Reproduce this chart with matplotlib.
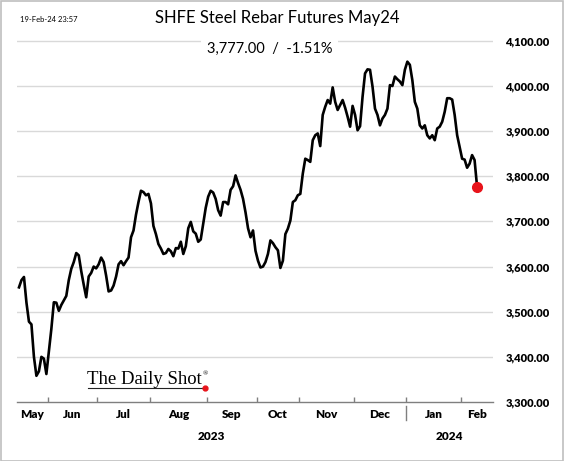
import numpy as np
import matplotlib
matplotlib.use('Agg')
import matplotlib.pyplot as plt
from matplotlib.patches import Rectangle
from matplotlib.lines import Line2D

# SHFE steel rebar futures (May24 contract), one value per trading day
rebar = [
    3554, 3570, 3577, 3520, 3478, 3472, 3400, 3358, 3368, 3400, 3396, 3362,
    3413, 3462, 3521, 3520, 3502, 3515, 3525, 3535, 3570, 3595, 3610, 3630,
    3625, 3590, 3560, 3532, 3578, 3586, 3600, 3596, 3605, 3620, 3610, 3580,
    3545, 3547, 3558, 3578, 3605, 3612, 3603, 3612, 3620, 3665, 3680, 3715,
    3743, 3768, 3765, 3758, 3761, 3740, 3690, 3672, 3650, 3640, 3628, 3630,
    3639, 3634, 3623, 3641, 3640, 3655, 3628, 3645, 3685, 3699, 3678, 3673,
    3655, 3660, 3695, 3730, 3755, 3768, 3764, 3750, 3725, 3713, 3743, 3743,
    3738, 3770, 3778, 3802, 3785, 3770, 3750, 3720, 3685, 3665, 3680, 3635,
    3613, 3598, 3600, 3610, 3628, 3658, 3652, 3643, 3636, 3597, 3613, 3672,
    3684, 3702, 3743, 3747, 3758, 3761, 3806, 3839, 3836, 3832, 3880, 3891,
    3895, 3867, 3936, 3954, 3969, 3961, 3997, 3965, 3947, 3958, 3969, 3952,
    3932, 3910, 3956, 3936, 3902, 3911, 3976, 4028, 4037, 4036, 3999, 3950,
    3936, 3913, 3928, 3936, 3950, 4002, 4000, 4021, 4015, 4010, 4002, 4036,
    4054, 4047, 4013, 3965, 3950, 3913, 3906, 3913, 3891, 3884, 3891, 3880,
    3906, 3910, 3921, 3943, 3973, 3973, 3970, 3936, 3891, 3865, 3839, 3837,
    3819, 3828, 3847, 3836, 3777,
]

# trading days shown in each month (May 2023 .. Feb 2024)
months = ['May', 'Jun', 'Jul', 'Aug', 'Sep', 'Oct', 'Nov', 'Dec', 'Jan', 'Feb']
month_days = [12, 20, 21, 23, 20, 17, 22, 21, 22, 7]
years = ['2023', '2024']
yticks = [3300, 3400, 3500, 3600, 3700, 3800, 3900, 4000, 4100]

last_value = '3,777.00'
last_change = '-1.51%'
stamp = '19-Feb-24 23:57'

plt.rcParams['font.family'] = ['Lato', 'DejaVu Sans']

x = np.arange(len(rebar))
xmin, xmax = -0.8, 190.4
bounds = np.cumsum(month_days)[:-1] - 0.5
edges = np.concatenate([[xmin], bounds, [xmax]])
mids = (edges[:-1] + edges[1:]) / 2
year_split = bounds[7]

fig = plt.figure(figsize=(5.64, 4.61), dpi=100)
ax = fig.add_axes([17 / 564, 1 - 402 / 461, 476 / 564, 362 / 461])

ax.plot(x, rebar, color='black', lw=1.9, solid_joinstyle='round', zorder=3)
ax.plot(x[-1], rebar[-1], 'o', color='#e8141b', ms=7, zorder=4)

ax.set_xlim(xmin, xmax)
ax.set_ylim(3300, 4102)

# grid lines
for v in yticks[1:]:
    ax.axhline(v, color='#d9d9d9', lw=1, zorder=1)

for s in ['top', 'right', 'left']:
    ax.spines[s].set_visible(False)
ax.spines['bottom'].set_color('#7f7f7f')
ax.spines['bottom'].set_linewidth(1)

# y labels on the right
ax.yaxis.tick_right()
ax.set_yticks(yticks)
ax.set_yticklabels([f'{v:,.2f}' for v in yticks], fontsize=8, fontweight='heavy')
ax.tick_params(axis='y', length=0, pad=9)

# month boundaries as ticks, month names centred between them
ax.set_xticks(bounds)
ax.set_xticklabels([])
ax.tick_params(axis='x', which='major', direction='in', length=3.5,
               color='#7f7f7f', width=1)
ax.set_xticks(mids, minor=True)
ax.set_xticklabels(months, minor=True, fontsize=8.5, fontweight='heavy')
ax.tick_params(axis='x', which='minor', length=0, pad=5)

# year separator and year labels
ax.add_line(Line2D([year_split, year_split], [-0.01, -0.05],
                   transform=ax.get_xaxis_transform(), color='#7f7f7f',
                   lw=1, clip_on=False))
year_mid = [(xmin + year_split) / 2, (year_split + xmax) / 2]
for xm, yr in zip(year_mid, years):
    ax.text(xm, -0.095, yr, transform=ax.get_xaxis_transform(),
            ha='center', va='center', fontsize=8.5, fontweight='heavy')

# titles
fig.text(0.492, 1 - 18 / 461, 'SHFE Steel Rebar Futures May24',
         ha='center', va='center', fontsize=12)
fig.text(0.478, 1 - 49 / 461, f'{last_value}  /  {last_change}',
         ha='center', va='center', fontsize=10.5, zorder=5,
         bbox=dict(facecolor='white', edgecolor='none', pad=4))
fig.text(20 / 564, 1 - 20 / 461, stamp, ha='left', va='center', fontsize=5.5)

# logo
fig.text(87 / 564, 1 - 379 / 461, 'The Daily Shot', ha='left', va='center',
         fontsize=13.5, family='Liberation Serif')
fig.text(203 / 564, 1 - 374 / 461, '\u00ae', ha='left', va='center',
         fontsize=5, family='Liberation Serif')
fig.add_artist(Line2D([88 / 564, 205 / 564], [1 - 388 / 461, 1 - 388 / 461],
                      color='#222222', lw=0.8))
fig.add_artist(Line2D([205 / 564], [1 - 388 / 461], marker='o', ms=3.5,
                      color='#e8141b', lw=0))

# grey frame around the whole chart
fig.add_artist(Rectangle((0.001, 0.001), 0.997, 0.997, transform=fig.transFigure,
                         fill=False, edgecolor='#bfbfbf', lw=1.2))

plt.savefig('out.png', dpi=100)
